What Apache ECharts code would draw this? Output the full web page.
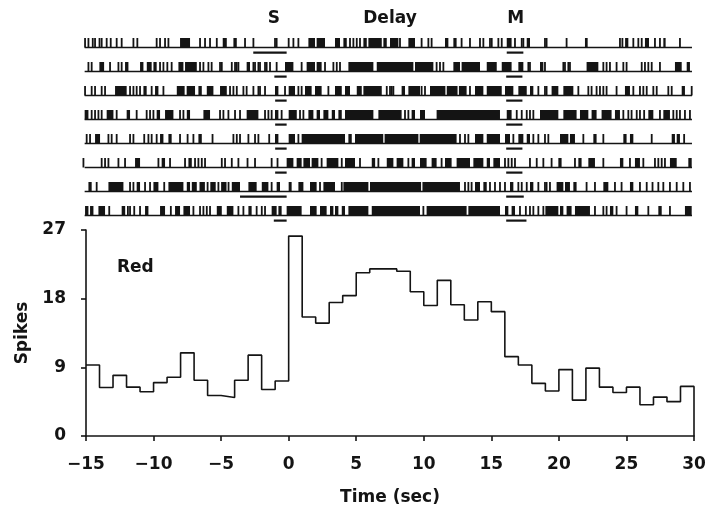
<!DOCTYPE html>
<html><head><meta charset="utf-8">
<script src="https://cdn.jsdelivr.net/npm/echarts@6/dist/echarts.min.js"></script>
<style>html,body{margin:0;padding:0;background:#fff}#c{width:719px;height:513px}</style>
</head><body><div id="c"></div>
<script>
// ---- Histogram (PSTH) ----
const binStart = -15;          // sec
const binWidth = 1;            // sec
const spikeCounts = [9.3, 6.35, 7.95, 6.4, 5.8, 7.0, 7.7, 10.9, 7.3, 5.3, 5.05, 7.3, 10.6, 6.1, 7.2,
  26.2, 15.6, 14.8, 17.5, 18.4, 21.4, 21.9, 21.9, 21.6, 18.9, 17.1, 20.4, 17.2, 15.2, 17.6, 16.3,
  10.4, 9.3, 6.9, 5.9, 8.7, 4.7, 8.9, 6.4, 5.7, 6.4, 4.1, 5.1, 4.5, 6.5];
const xTickRange = [-15, 30, 5];
const yTickRange = [0, 27, 9];

// ---- Raster: spike times (number) or dense bursts ([start, end]) per trial, in sec ----
const trial1 = [-15.07,-14.82,-14.5,-14.33,-14.0,-13.84,-13.47,-13.17,-12.73,-12.36,-11.49,-11.2,-9.77,-9.52,-9.15,-8.9,[-8.04,-7.3],-6.56,-6.19,-5.82,-5.32,[-4.88,-4.58],[-4.09,-3.84],-3.23,-2.61,-1.01,-0.89,0.0,0.35,0.72,[1.46,1.95],[2.07,2.69],[3.43,3.8],[4.05,4.3],4.54,4.79,5.04,5.28,[5.53,5.78],[5.9,6.89],[7.01,7.26],[7.5,8.12],8.24,[8.86,9.35],9.84,10.34,10.58,[11.57,11.82],[12.19,12.43],12.8,13.42,14.16,14.41,14.9,15.03,15.52,15.77,[16.14,16.5],16.75,17.25,17.37,[17.62,17.86],18.97,19.09,20.57,[21.93,22.13],24.52,24.7,[24.9,25.14],25.51,25.88,26.13,[26.37,26.67],27.11,27.48,[27.73,27.9],28.96];
const trial2 = [-14.82,-14.58,[-14.01,-13.66],-13.22,-12.6,-12.36,[-12.11,-11.86],[-11.0,-10.75],[-10.5,-10.14],[-10.01,-9.77],-9.52,-9.27,-8.98,-8.66,[-8.16,-7.79],[-7.67,-6.8],-6.56,-6.31,-5.94,-5.7,-5.08,-4.95,-4.21,-3.97,-3.85,-3.72,[-3.11,-2.86],-2.61,-2.49,-2.24,-2.12,-1.75,-1.63,-1.38,-0.89,[-0.27,0.35],0.96,[1.33,1.95],[2.07,2.44],2.69,3.31,3.56,3.8,[4.42,6.27],[6.52,9.23],[9.35,10.71],10.95,11.2,11.45,[12.19,12.68],[12.8,14.16],[14.66,15.4],[15.77,16.5],[17.0,17.37],17.74,17.86,[18.6,18.85],18.97,20.33,20.45,20.7,20.82,[22.05,22.92],23.29,23.53,23.78,24.27,24.77,25.01,26.13,26.37,26.62,26.87,27.48,[28.59,29.09],[29.46,29.7]];
const trial3 = [-15.07,-14.58,-14.33,-13.84,-13.59,[-12.85,-11.99],-11.74,-11.49,-11.25,-11.0,[-10.75,-10.51],-10.14,[-9.89,-9.64],-9.27,[-8.28,-7.7],[-7.55,-6.93],[-6.68,-6.43],[-6.06,-5.57],[-5.08,-4.58],-4.34,-4.09,-3.84,-3.35,-3.11,-2.61,-2.24,-2.12,-1.75,[-1.01,-0.76],-0.27,[0.0,0.47],0.72,0.96,[1.21,1.7],[1.95,2.44],2.94,[3.43,3.93],[4.17,4.54],[5.04,5.41],[5.53,6.89],7.26,7.5,7.63,7.75,[8.36,8.61],[8.86,9.72],9.84,10.09,[10.46,11.6],[11.7,12.5],[12.6,13.17],13.42,[13.79,14.41],[14.66,15.77],[16.01,16.63],[17.0,17.62],[17.86,18.11],18.48,18.97,19.09,[19.46,19.96],[20.33,21.07],21.44,22.18,22.42,22.79,23.04,23.29,23.53,24.27,[24.89,25.26],25.51,26.0,26.25,26.5,26.99,27.24,28.1,28.35,[29.09,29.33],29.83];
const trial4 = [[-15.1,-14.82],-14.58,-14.33,-14.08,-13.84,[-13.47,-12.97],-12.73,[-11.99,-11.74],-11.25,-10.51,-10.26,-10.01,[-9.77,-9.52],[-9.15,-8.53],-8.04,-7.79,[-7.54,-7.3],[-6.31,-5.82],-5.08,-4.83,-4.46,-3.97,-3.6,[-3.11,-2.24],-1.75,-1.5,-1.26,[-1.01,-0.76],-0.52,[0.0,0.6],0.84,1.09,[1.46,1.83],[2.07,2.32],[2.57,2.94],[3.19,3.43],[3.68,3.93],[4.17,6.27],[6.64,8.36],8.61,8.86,[9.1,9.35],[9.72,10.09],[10.95,15.64],[16.14,16.5],16.88,17.25,17.62,17.86,18.11,[18.6,19.96],[20.33,21.31],[21.56,22.18],[22.42,22.79],[23.16,23.9],[24.15,24.52],24.77,25.14,25.38,25.76,26.0,[26.25,26.37],[26.62,26.99],27.48,[27.73,28.22],28.47,28.72,28.96,29.33,29.7];
const trial5 = [-14.95,-14.7,[-14.33,-13.96],-13.34,-13.1,-12.73,-11.74,-11.49,[-10.75,-10.63],-10.38,-10.14,-9.77,[-9.52,-9.27],[-8.9,-8.66],-8.04,[-7.54,-7.42],-7.05,[-6.68,-6.43],[-5.7,-5.57],-4.09,-3.84,-3.6,-2.98,-2.49,-2.24,[-1.5,-1.38],[-1.01,-0.76],[0.0,0.47],0.72,[0.96,4.17],[4.42,4.67],[4.91,7.0],[7.1,9.6],[9.7,12.43],12.68,13.05,13.3,[13.79,14.41],[14.66,15.64],[16.01,16.38],16.63,[17.0,17.37],[17.62,17.86],18.11,18.48,18.97,19.22,[20.08,20.7],[20.82,21.19],21.81,[22.55,22.79],23.29,[24.77,25.01],[25.26,25.51],26.87,[28.35,28.59],[28.72,28.96],[29.21,29.33]];
const trial6 = [-15.19,-13.84,-13.59,-13.34,-12.6,-12.11,[-11.37,-11.0],-9.64,[-9.4,-9.15],-8.78,-7.67,[-7.42,-7.17],-6.93,-6.68,-6.43,-6.19,-4.95,-4.71,-4.21,-3.72,[-3.11,-2.98],-2.49,-1.26,[-0.89,-0.76],[-0.15,0.35],[0.59,0.96],[1.09,1.58],[1.7,2.2],2.44,[2.81,3.68],3.93,[4.17,4.91],5.28,[6.15,6.4],6.64,[7.26,7.75],[7.99,8.49],8.86,[9.1,9.35],[9.72,10.21],[10.58,10.95],11.32,[11.57,12.06],[12.43,13.42],[13.67,14.41],[14.66,14.9],[15.15,15.64],16.01,16.26,16.51,16.75,17.86,18.36,18.85,19.46,[19.96,20.2],21.19,[21.44,21.68],[22.18,22.67],23.29,[24.52,24.77],25.26,[25.63,26.0],26.25,27.11,27.36,27.61,27.85,[28.22,28.72],[29.58,29.83]];
const trial7 = [[-14.82,-14.58],-14.21,[-13.34,-12.23],-11.74,-11.49,[-11.25,-11.0],-10.63,-10.26,[-10.01,-9.64],[-9.27,-9.15],[-8.9,-7.79],[-7.54,-7.3],[-7.17,-6.8],[-6.6,-6.2],-6.0,[-5.8,-5.4],-5.2,[-5.0,-4.6],-4.45,[-4.21,-3.6],[-2.98,-2.37],[-1.99,-1.5],-1.26,[-0.89,-0.64],[0.0,0.22],[0.72,1.09],[1.58,2.07],2.32,[2.57,3.43],3.93,[4.05,5.9],[6.02,9.8],[9.9,12.68],13.05,13.3,13.54,[13.79,14.16],[14.41,14.66],14.9,15.27,15.64,16.01,[16.38,16.63],17.0,17.25,17.62,[17.86,18.11],18.48,18.97,19.09,19.34,[19.83,20.33],[20.45,20.82],[21.07,21.31],22.05,22.67,[23.29,23.66],24.15,24.64,[25.26,25.51],26.0,26.5,[26.87,26.99],27.36,27.73,28.22,28.72,29.21,29.7];
const trial8 = [[-15.07,-14.82],[-14.7,-14.45],[-14.08,-13.59],[-13.34,-13.22],[-12.36,-12.1],-11.9,-11.74,[-11.49,-11.37],-11.0,[-10.63,-10.38],[-9.52,-9.15],[-8.78,-8.66],[-8.41,-8.04],[-7.79,-7.3],-7.05,-6.56,-6.31,-6.06,-5.82,[-5.32,-4.95],[-4.58,-4.09],-3.72,-3.35,[-2.98,-2.74],-2.37,-1.99,-1.75,[-1.26,-0.89],[-0.76,-0.52],[-0.15,0.96],[1.58,2.07],[2.32,2.81],[3.06,3.31],[3.43,3.68],[3.93,4.17],[4.42,5.9],[6.15,9.72],9.97,[10.21,13.17],[13.3,15.64],[16.01,16.26],[16.5,16.75],17.12,[17.49,17.62],17.86,18.11,18.48,18.85,[19.0,19.96],[20.08,20.33],[20.57,20.94],[21.19,22.3],22.67,23.29,23.53,[23.78,24.03],24.27,25.01,[25.63,25.88],26.62,[27.36,27.61],28.22,[29.33,29.83]];
const trials = [trial1, trial2, trial3, trial4, trial5, trial6, trial7, trial8];
const trialSpan = [-15.1, 29.85];

// event marker bars under each trial: S (sample) and M (movement)
const sBars = [[-2.62,-0.15],[-1.06,-0.15],[-1.0,-0.15],[-1.0,-0.15],[-1.0,-0.15],[-1.0,-0.15],[-3.6,-0.15],[-1.1,-0.15]];
const mBars = [[16.14,17.37],[16.1,17.3],[16.1,17.3],[16.1,17.3],[16.1,17.3],[16.1,17.3],[16.1,17.4],[16.1,17.6]];
const eventNames = ['S', 'Delay', 'M'];
const eventTimes = [-1.1, 7.5, 16.8];

const INK = '#141414';
const FONT = 'DejaVu Sans';
const txt = {fontFamily: FONT, fontWeight: 'bold', fontSize: 17, color: INK};

const histData = spikeCounts.map((v, i) => [binStart + i * binWidth, v]);
histData.push([binStart + spikeCounts.length * binWidth, 0]);

const spikeItems = [];
trials.forEach((tr, r) => tr.forEach(s => {
  if (Array.isArray(s)) spikeItems.push([r, s[0], s[1]]);
  else spikeItems.push([r, s, s]);
}));
const baseItems = trials.map((_, r) => [r, trialSpan[0], trialSpan[1]]);
const barItems = [];
sBars.forEach((b, r) => barItems.push([r, b[0], b[1]]));
mBars.forEach((b, r) => barItems.push([r, b[0], b[1]]));

const chart = echarts.init(document.getElementById('c'), null, {renderer: 'canvas'});
chart.setOption({
  animation: false,
  backgroundColor: '#fff',
  grid: [
    {left: 86, right: 25, top: 230, bottom: 77, containLabel: false, outerBoundsMode: 'none'},
    {left: 86, right: 25, top: 23.5, height: 192, containLabel: false, outerBoundsMode: 'none'}
  ],
  xAxis: [
    {type: 'value', gridIndex: 0, min: xTickRange[0], max: xTickRange[1], interval: xTickRange[2],
     axisLine: {show: true, onZero: false, lineStyle: {color: INK, width: 1.6}},
     axisTick: {show: true, length: 5, lineStyle: {color: INK, width: 1.6}},
     splitLine: {show: false},
     axisLabel: Object.assign({margin: 20, formatter: v => String(v).replace('-', '\u2212')}, txt),
     name: 'Time (sec)', nameLocation: 'middle', nameGap: 53, nameTextStyle: txt},
    {type: 'value', gridIndex: 1, min: xTickRange[0], max: xTickRange[1], show: false}
  ],
  yAxis: [
    {type: 'value', gridIndex: 0, min: yTickRange[0], max: yTickRange[1], interval: yTickRange[2],
     axisLine: {show: true, onZero: false, lineStyle: {color: INK, width: 1.6}},
     axisTick: {show: true, length: 5, lineStyle: {color: INK, width: 1.6}},
     splitLine: {show: false},
     axisLabel: Object.assign({margin: 20}, txt),
     name: 'Spikes', nameLocation: 'middle', nameGap: 52, nameRotate: 90, nameTextStyle: txt},
    {type: 'value', gridIndex: 1, min: 0, max: 8, inverse: true, show: false}
  ],
  graphic: [
    {type: 'text', left: 117, top: 259, style: {text: 'Red', font: 'bold 17px "DejaVu Sans"', fill: INK}}
  ],
  series: [
    {type: 'line', xAxisIndex: 0, yAxisIndex: 0, step: 'end', data: histData, symbol: 'none',
     lineStyle: {color: INK, width: 1.6}, silent: true},
    {type: 'custom', xAxisIndex: 1, yAxisIndex: 1, clip: false, silent: true, data: baseItems,
     renderItem: (p, api) => {
       const a = api.coord([api.value(1), api.value(0) + 1]);
       const b = api.coord([api.value(2), api.value(0) + 1]);
       return {type: 'line', shape: {x1: a[0], y1: a[1], x2: b[0], y2: b[1]}, style: {stroke: INK, lineWidth: 1.4}};
     }},
    {type: 'custom', xAxisIndex: 1, yAxisIndex: 1, clip: false, silent: true, data: spikeItems,
     renderItem: (p, api) => {
       const a = api.coord([api.value(1), api.value(0) + 1]);
       const b = api.coord([api.value(2), api.value(0) + 1]);
       let w = b[0] - a[0], x = a[0];
       if (w < 1.8) { x = (a[0] + b[0]) / 2 - 0.9; w = 1.8; }
       return {type: 'rect', shape: {x: x, y: a[1] - 9.5, width: w, height: 9.5}, style: {fill: INK}};
     }},
    {type: 'custom', xAxisIndex: 1, yAxisIndex: 1, clip: false, silent: true, data: barItems,
     renderItem: (p, api) => {
       const a = api.coord([api.value(1), api.value(0) + 1]);
       const b = api.coord([api.value(2), api.value(0) + 1]);
       return {type: 'rect', shape: {x: a[0], y: a[1] + 4, width: b[0] - a[0], height: 2.2}, style: {fill: INK}};
     }},
    {type: 'custom', xAxisIndex: 1, yAxisIndex: 1, clip: false, silent: true,
     data: eventTimes.map((t, i) => [t, i]),
     renderItem: (p, api) => {
       const a = api.coord([api.value(0), -0.21]);
       return {type: 'text', style: {text: eventNames[api.value(1)], x: a[0], y: a[1],
         font: 'bold 17px "DejaVu Sans"', fill: INK, align: 'center', verticalAlign: 'middle'}};
     }}
  ]
});
</script></body></html>
